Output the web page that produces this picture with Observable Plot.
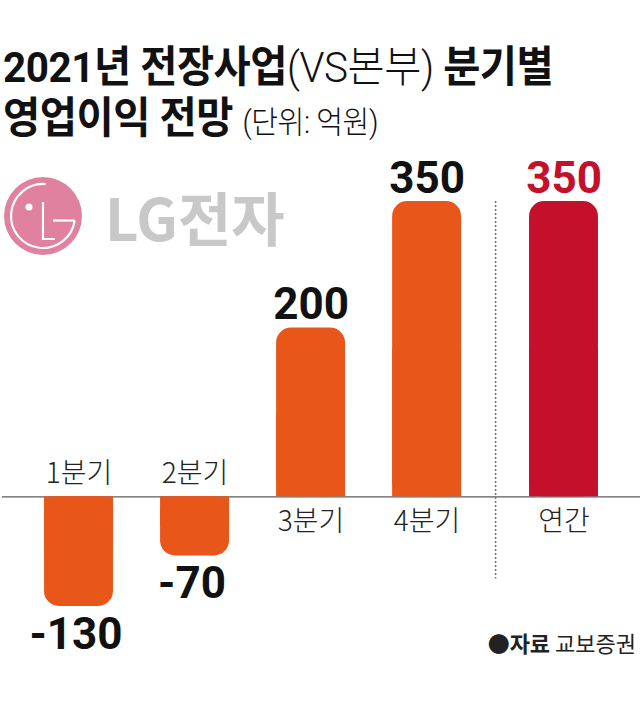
<!DOCTYPE html>
<html>
<head>
<meta charset="utf-8">
<script src="https://cdn.jsdelivr.net/npm/d3@7"></script>
<script src="https://cdn.jsdelivr.net/npm/@observablehq/plot@0.6"></script>
<style>
  html, body { margin: 0; padding: 0; background: #fff; }
  #page { position: relative; width: 640px; height: 702px; overflow: hidden; font-family: "Noto Sans CJK KR", "Noto Sans", sans-serif; }
  .tline { position: absolute; left: 3px; font-family: Roboto, "Noto Sans CJK KR", sans-serif; font-size: 43px; line-height: 43px; color: #111; white-space: nowrap; transform: scaleX(0.94); transform-origin: left top; letter-spacing: -0.5px; }
  #t1 { top: 46px; }
  #t2 { top: 97px; }
  .tline b { font-weight: 700; }
  .tline .lt { font-weight: 300; }
  .tline .unit { font-weight: 300; font-size: 31px; }
  #logo { position: absolute; left: 3px; top: 176px; }
  #brand { position: absolute; left: 105px; top: 187px; font-size: 58px; line-height: 58px; font-weight: 700; color: #c8c8c8; }
  #source { position: absolute; right: 4px; top: 631px; font-size: 22px; line-height: 22px; color: #222; white-space: nowrap; }
  #source b { font-weight: 700; }
  #chart { position: absolute; left: 0; top: 150px; }
  g[aria-label="values"] text { letter-spacing: -2.5px; }
</style>
</head>
<body>
<div id="page">
  <div class="tline" id="t1"><b>2021년 전장사업</b><span class="lt">(VS본부)</span> <b>분기별</b></div>
  <div class="tline" id="t2"><b>영업이익 전망</b> <span class="unit">(단위: 억원)</span></div>
  <svg id="logo" width="82" height="82" viewBox="0 0 82 82">
    <circle cx="40" cy="40" r="39" fill="#e0829f"></circle>
    <path d="M 42.8 8.1 A 32 32 0 1 0 71.7 44.5" fill="none" stroke="#fff" stroke-width="2.2"></path>
    <line x1="50" y1="44.5" x2="71.7" y2="44.5" stroke="#fff" stroke-width="2.2"></line>
    <path d="M 40 26 L 40 63 L 52 63" fill="none" stroke="#fff" stroke-width="2.2"></path>
    <circle cx="26" cy="31" r="3.5" fill="#fff"></circle>
  </svg>
  <div id="brand">LG전자</div>
  <div id="source"><b>●자료</b> 교보증권</div>
  <div id="chart"></div>
</div>
<script>
// ---- data ----
const categories = ["1분기", "2분기", "3분기", "4분기", "연간"];
const values = [-130, -70, 200, 350, 350];
const groups = ["분기", "분기", "분기", "분기", "연간"];

// ---- styling constants ----
const ORANGE = "#e9561a";
const RED = "#c5102b";
const ANNUAL_GAP = 0.18;   // extra spacing before the annual bar (in bar slots)
const HALF = 0.297;        // half bar width (in bar slots)

const data = categories.map((c, i) => ({
  cat: c,
  v: values[i],
  grp: groups[i],
  pos: groups[i] === "연간" ? i + ANNUAL_GAP : i
}));
const fillOf = d => d.grp === "연간" ? RED : ORANGE;
const labelColor = d => d.grp === "연간" ? RED : "#111";
const lastQuarter = d3.max(data.filter(d => d.grp === "분기"), d => d.pos);
const annualPos = d3.min(data.filter(d => d.grp === "연간"), d => d.pos);
const sepPos = (lastQuarter + annualPos) / 2;

const catFont = { fontFamily: "Noto Sans CJK KR", fontSize: 28, fontWeight: 300 };
const valFont = { fontFamily: "Roboto", fontSize: 44, fontWeight: 700 };

const chart = Plot.plot({
  width: 640,
  height: 552,
  marginLeft: 0, marginRight: 0, marginTop: 0, marginBottom: 0,
  x: { type: "linear", domain: [0, annualPos], range: [78.5, 563.5], axis: null },
  y: { domain: [d3.min(values), d3.max(values)], range: [456, 51], axis: null },
  color: { type: "identity" },
  style: { background: "transparent", overflow: "visible" },
  marks: [
    Plot.ruleY([0], { stroke: "#5a5a5a", strokeWidth: 1.3, insetLeft: 2 }),
    Plot.ruleX([sepPos], { y1: d3.max(values), y2: d3.min(values) * 0.75, stroke: "#777", strokeWidth: 1.6, strokeDasharray: "2,2" }),
    Plot.rect(data, { x1: d => d.pos - HALF, x2: d => d.pos + HALF, y1: 0, y2: "v", rx: 15, fill: fillOf, ariaLabel: "bars" }),
    Plot.rect(data, { x1: d => d.pos - HALF, x2: d => d.pos + HALF, y1: 0, y2: d => d.v / 2, fill: fillOf, ariaLabel: "bars" }),
    // value labels
    Plot.text(data.filter(d => d.v >= 0), { x: "pos", y: "v", text: d => String(d.v), dy: -23, fill: labelColor, ...valFont, ariaLabel: "values" }),
    Plot.text(data.filter(d => d.v < 0), { x: "pos", y: "v", text: d => String(d.v), dy: 28, dx: -3, fill: labelColor, ...valFont, ariaLabel: "values" }),
    // category labels
    Plot.text(data.filter(d => d.v < 0), { x: "pos", y: 0, text: "cat", dy: -23, fill: "#222", ...catFont }),
    Plot.text(data.filter(d => d.v >= 0), { x: "pos", y: 0, text: "cat", dy: 25, fill: "#222", ...catFont })
  ]
});

// group bar layers together and give them a soft shadow
const svgNS = "http://www.w3.org/2000/svg";
const barGroups = chart.querySelectorAll('g[aria-label="bars"]');
if (barGroups.length) {
  const wrap = document.createElementNS(svgNS, "g");
  wrap.setAttribute("style", "filter: drop-shadow(9px 3px 5px rgba(0,0,0,0.22))");
  barGroups[0].parentNode.insertBefore(wrap, barGroups[0]);
  barGroups.forEach(g => wrap.appendChild(g));
}
document.getElementById("chart").appendChild(chart);
</script>
</body>
</html>
